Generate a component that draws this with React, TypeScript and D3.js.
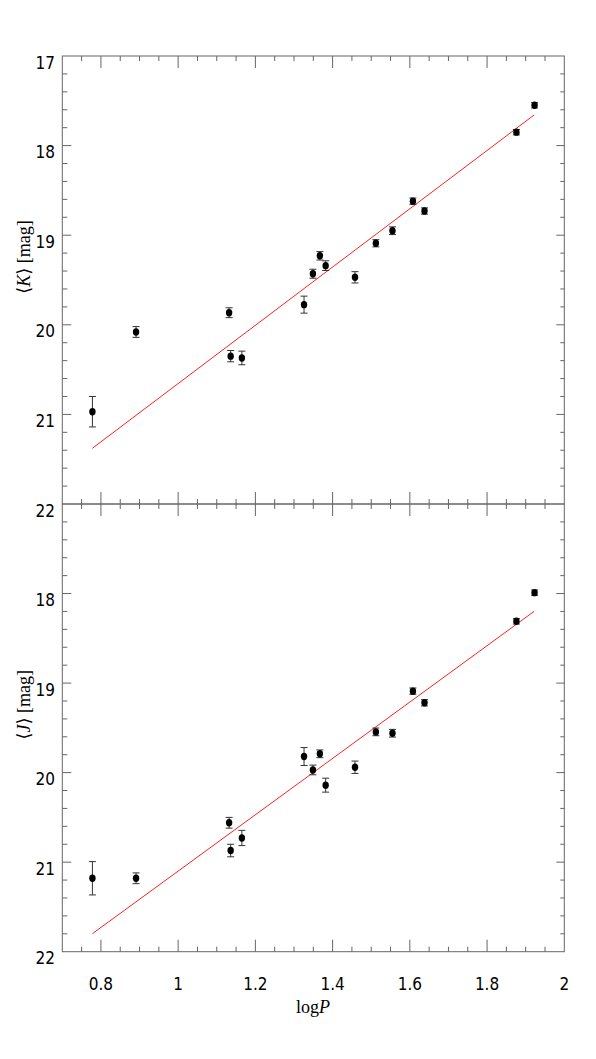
import React from "react";
import * as d3 from "d3";

// ---- data ----
const logP = [0.778, 0.891, 1.132, 1.136, 1.165, 1.326, 1.349, 1.367, 1.382, 1.458, 1.512, 1.555, 1.608, 1.638, 1.876, 1.923];
const kMag = [20.97, 20.08, 19.865, 20.35, 20.37, 19.775, 19.43, 19.23, 19.34, 19.47, 19.09, 18.95, 18.62, 18.73, 17.85, 17.55];
const kErr = [0.17, 0.06, 0.055, 0.063, 0.076, 0.095, 0.05, 0.047, 0.054, 0.063, 0.04, 0.043, 0.035, 0.035, 0.03, 0.03];
const jMag = [21.18, 21.18, 20.56, 20.87, 20.73, 19.82, 19.97, 19.79, 20.14, 19.94, 19.545, 19.56, 19.09, 19.22, 18.31, 17.99];
const jErr = [0.186, 0.06, 0.06, 0.07, 0.085, 0.1, 0.054, 0.043, 0.078, 0.069, 0.043, 0.043, 0.035, 0.035, 0.03, 0.03];

// linear fits: mag = zero + slope * (logP - 1)
const kFit = { slope: -3.252, zero: 20.656 };
const jFit = { slope: -3.147, zero: 21.10 };
const fitRange = [0.778, 1.922];

const xTickLabels = ["0.8", "1", "1.2", "1.4", "1.6", "1.8", "2"];
const xTickValues = [0.8, 1.0, 1.2, 1.4, 1.6, 1.8, 2.0];
const yTickValuesTop = [17, 18, 19, 20, 21, 22];
const yTickValuesBot = [18, 19, 20, 21, 22];

const W = 596;
const H = 1059;
const L = 62.3, R = 564.3;
const topY0 = 56, midY = 504, botY1 = 951.7;

const x = d3.scaleLinear().domain([0.7, 2.0]).range([L, R]);
const yTop = d3.scaleLinear().domain([17, 22]).range([topY0, midY]);
const yBot = d3.scaleLinear().domain([17, 22]).range([midY, botY1]);

const axisColor = "#666";
const tickFont = "'Liberation Sans Narrow', 'DejaVu Sans Condensed', 'Liberation Sans', sans-serif";
const serif = "'Liberation Serif', 'DejaVu Serif', serif";

const xMinor = d3.range(0.75, 1.999, 0.05).filter((v) => Math.abs(Math.round(v * 5) - v * 5) > 1e-6);
const xMajor = d3.range(0.8, 1.999, 0.2);
const yMinor = d3.range(17.2, 21.999, 0.2).filter((v) => Math.abs(Math.round(v) - v) > 1e-6);
const yMajor = [18, 19, 20, 21];

function Panel({ y, mag, err, fit, bottom }: any) {
  const [y0, y1] = y.range();
  const lines: any[] = [];
  // x ticks on top edge (down) and bottom edge (up)
  xMajor.forEach((v: number, i: number) => {
    lines.push(<line key={"xt" + i} x1={x(v)} x2={x(v)} y1={y0} y2={y0 + 12} />);
    lines.push(<line key={"xb" + i} x1={x(v)} x2={x(v)} y1={y1} y2={y1 - 12} />);
  });
  xMinor.forEach((v: number, i: number) => {
    lines.push(<line key={"xmt" + i} x1={x(v)} x2={x(v)} y1={y0} y2={y0 + 5} />);
    lines.push(<line key={"xmb" + i} x1={x(v)} x2={x(v)} y1={y1} y2={y1 - 5} />);
  });
  yMajor.forEach((v: number, i: number) => {
    lines.push(<line key={"yl" + i} x1={L} x2={L + 9} y1={y(v)} y2={y(v)} />);
    lines.push(<line key={"yr" + i} x1={R} x2={R - 8} y1={y(v)} y2={y(v)} />);
  });
  yMinor.forEach((v: number, i: number) => {
    lines.push(<line key={"yml" + i} x1={L} x2={L + 5} y1={y(v)} y2={y(v)} />);
    lines.push(<line key={"ymr" + i} x1={R} x2={R - 4} y1={y(v)} y2={y(v)} />);
  });
  const fitLine = d3.line<number>()
    .x((v) => x(v))
    .y((v) => y(fit.zero + fit.slope * (v - 1)));
  return (
    <g>
      <rect x={L} y={y0} width={R - L} height={y1 - y0} fill="none" stroke={axisColor} strokeWidth={1} />
      <g stroke={axisColor} strokeWidth={1}>{lines}</g>
      <path d={fitLine(fitRange) || ""} stroke="#ff2020" strokeWidth={1} fill="none" />
      <g>
        {logP.map((p, i) => {
          const cx = x(p);
          const cy = y(mag[i]);
          const ya = y(mag[i] - err[i]);
          const yb = y(mag[i] + err[i]);
          return (
            <g key={i}>
              <g stroke="#333" strokeWidth={1}>
                <line x1={cx} x2={cx} y1={ya} y2={yb} />
                <line x1={cx - 3.5} x2={cx + 3.5} y1={ya} y2={ya} />
                <line x1={cx - 3.5} x2={cx + 3.5} y1={yb} y2={yb} />
              </g>
              <ellipse cx={cx} cy={cy} rx={3.2} ry={3.7} fill="#000" />
            </g>
          );
        })}
      </g>
    </g>
  );
}

export default function App() {
  return (
    <svg width={W} height={H} style={{ position: "absolute", left: 0, top: 0, background: "#fff" }}>
      <rect width={W} height={H} fill="#fff" />
      <Panel y={yTop} mag={kMag} err={kErr} fit={kFit} />
      <Panel y={yBot} mag={jMag} err={jErr} fit={jFit} bottom />
      {/* y tick labels */}
      <g fontFamily={tickFont} fontSize={17} fill="#000" textAnchor="end">
        {yTickValuesTop.map((v) => (
          <text key={"lt" + v} x={55} y={yTop(v) + 12.5}>{v}</text>
        ))}
        {yTickValuesBot.slice(0, -1).map((v) => (
          <text key={"lb" + v} x={55} y={yBot(v) + 12.5}>{v}</text>
        ))}
        <text x={55} y={yBot(22) + 12.5}>22</text>
      </g>
      {/* x tick labels */}
      <g fontFamily={tickFont} fontSize={17} fill="#000" textAnchor="middle">
        {xTickValues.map((v, i) => (
          <text key={"xl" + i} x={x(v)} y={990}>{xTickLabels[i]}</text>
        ))}
      </g>
      {/* axis titles */}
      <text x={313} y={1013} fontFamily={serif} fontSize={18} textAnchor="middle" fill="#000">
        log<tspan fontStyle="italic">P</tspan>
      </text>
      <text transform={`translate(30,${(topY0 + midY) / 2 - 23}) rotate(-90)`} fontFamily={serif} fontSize={18} textAnchor="middle" fill="#000">
        ⟨<tspan fontStyle="italic">K</tspan>⟩ [mag]
      </text>
      <text transform={`translate(30,${(midY + botY1) / 2 - 23}) rotate(-90)`} fontFamily={serif} fontSize={18} textAnchor="middle" fill="#000">
        ⟨<tspan fontStyle="italic">J</tspan>⟩ [mag]
      </text>
    </svg>
  );
}
